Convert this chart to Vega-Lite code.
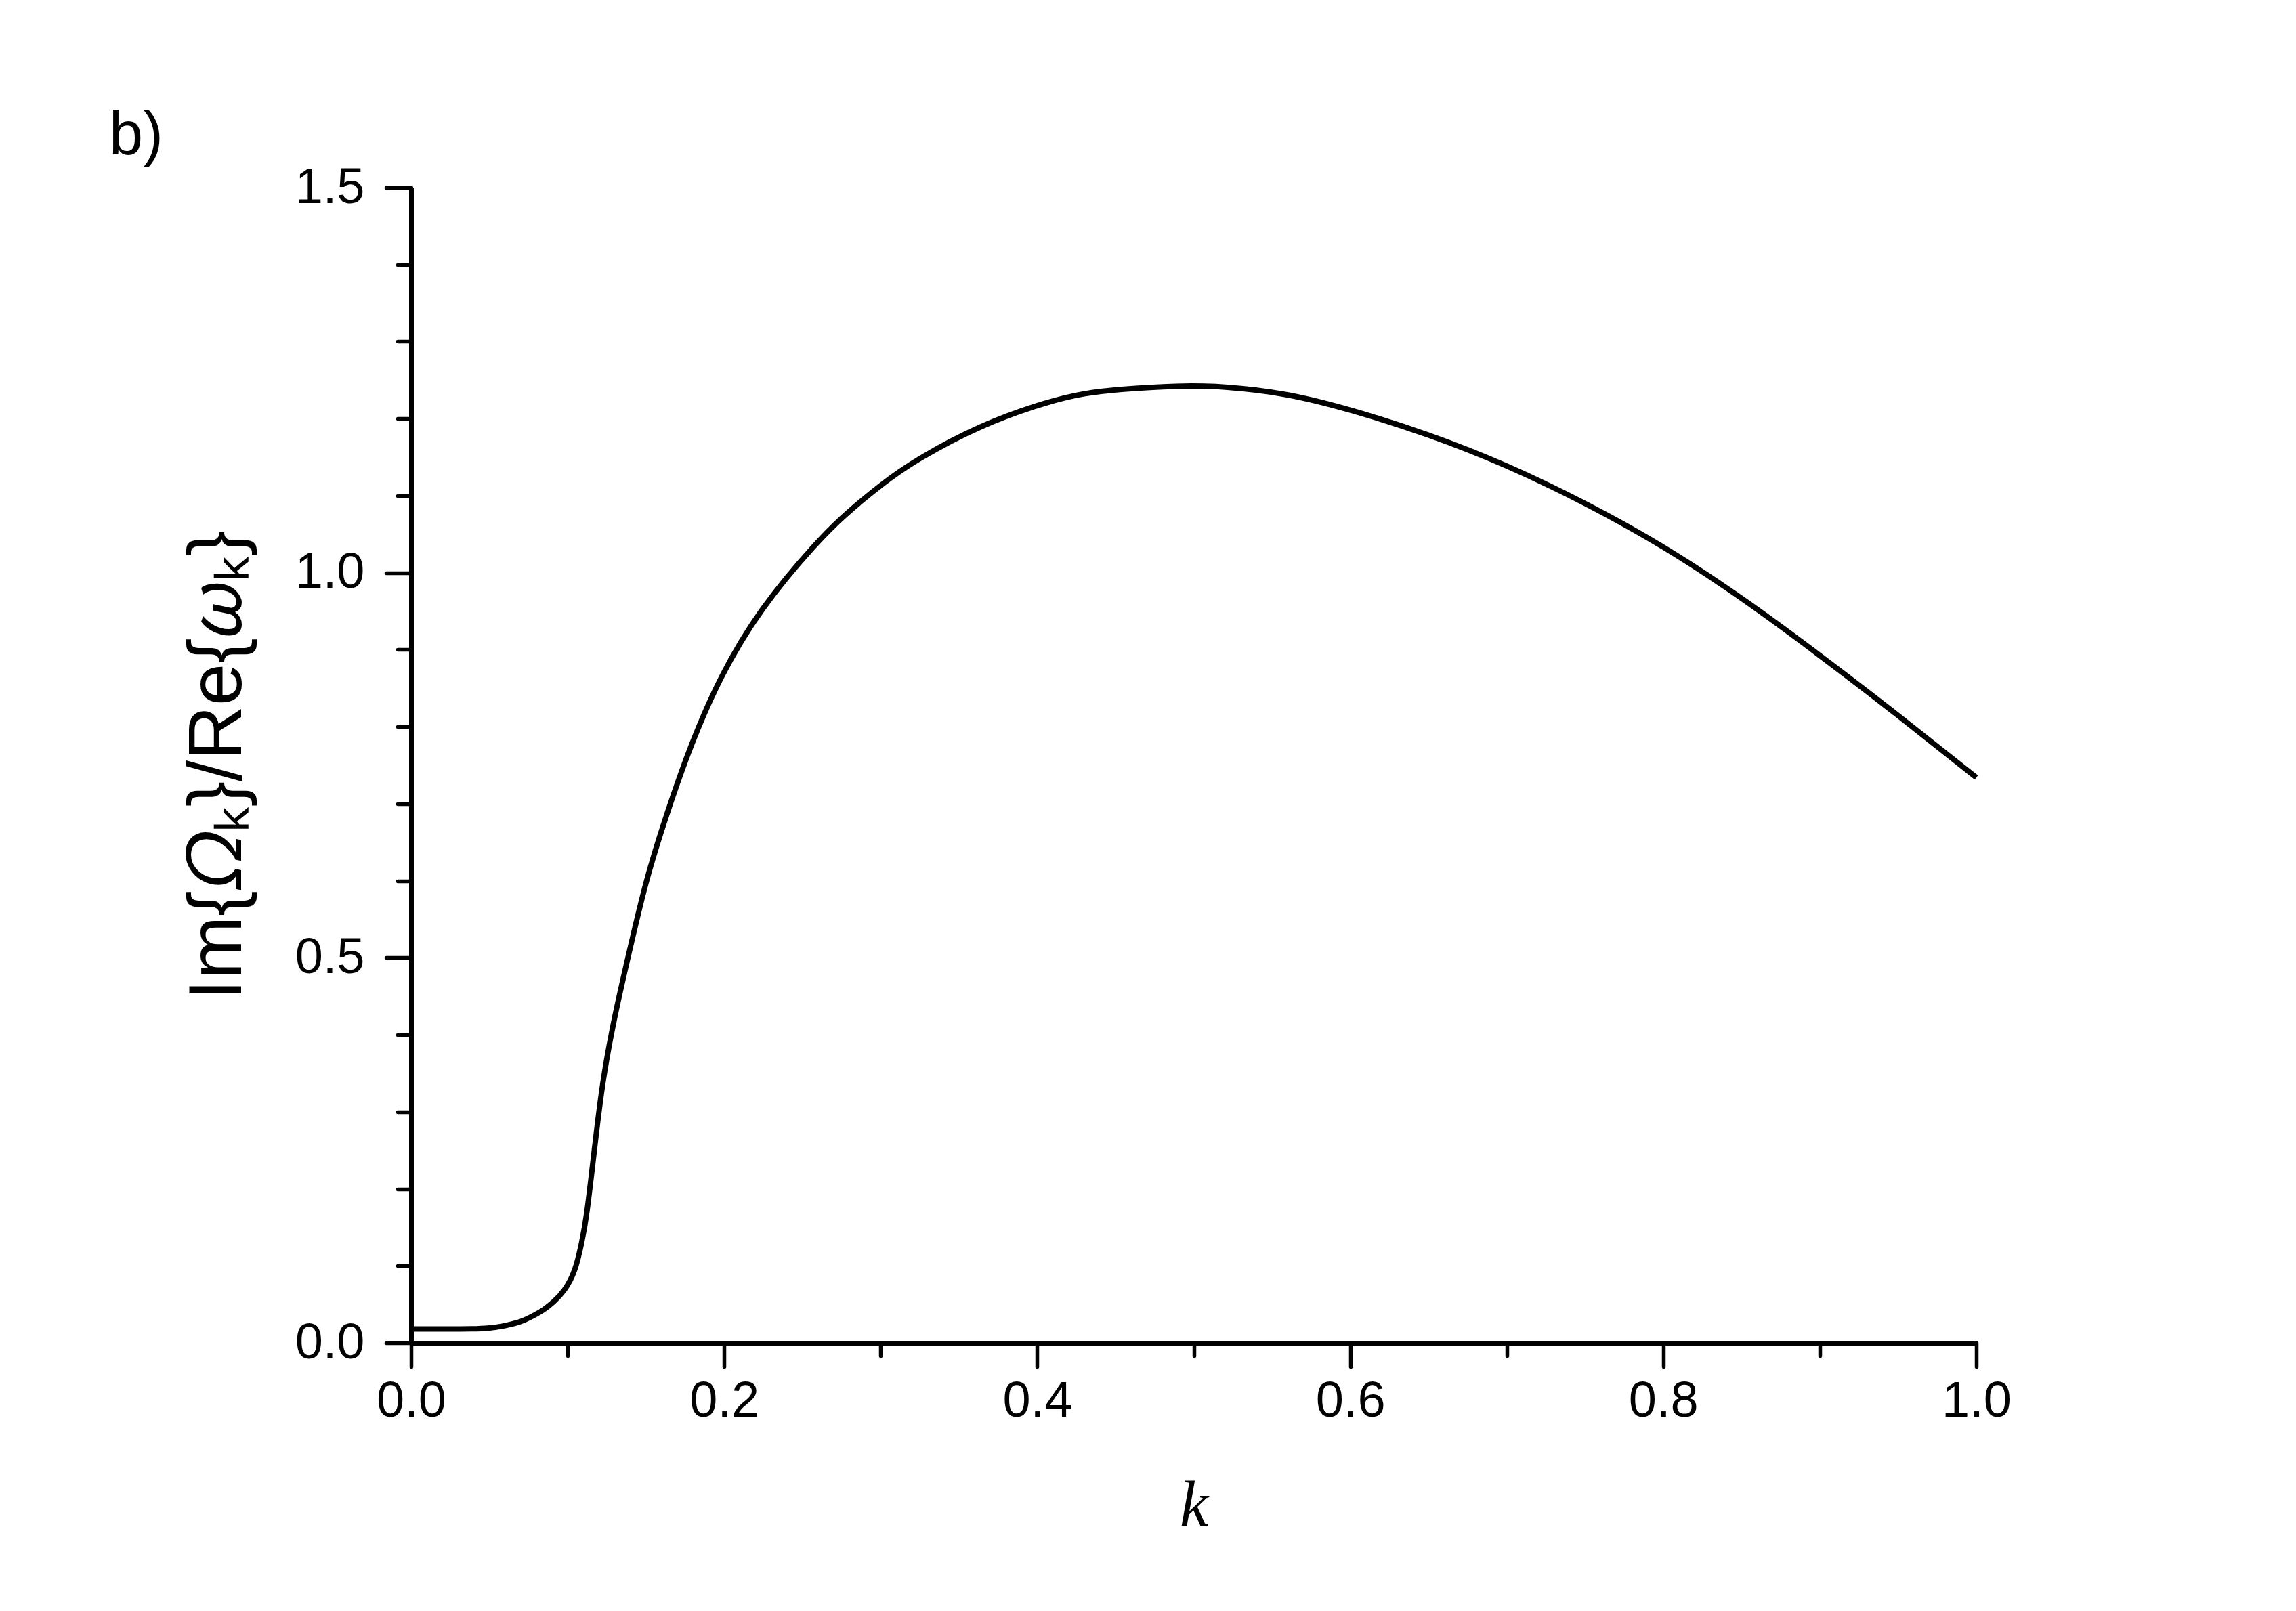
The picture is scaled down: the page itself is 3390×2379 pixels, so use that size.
{
  "$schema": "https://vega.github.io/schema/vega-lite/v6.json",
  "autosize": {"type": "none"},
  "width": 2311,
  "height": 1706,
  "padding": {"left": 607, "top": 277, "right": 472, "bottom": 396},
  "background": "white",
  "config": {"view": {"stroke": null}},
  "title": {
    "text": "b)",
    "anchor": "start",
    "frame": "group",
    "font": "Liberation Sans",
    "fontSize": 90,
    "fontWeight": "normal",
    "color": "black",
    "dx": -446,
    "dy": 91,
    "offset": 13,
    "baseline": "alphabetic"
  },
  "data": {
    "values": [
      {"k": 0.0, "v": 0.018},
      {"k": 0.02, "v": 0.018},
      {"k": 0.04, "v": 0.018},
      {"k": 0.05, "v": 0.019},
      {"k": 0.06, "v": 0.022},
      {"k": 0.07, "v": 0.027},
      {"k": 0.078, "v": 0.035},
      {"k": 0.085, "v": 0.043},
      {"k": 0.091, "v": 0.053},
      {"k": 0.098, "v": 0.067},
      {"k": 0.105, "v": 0.093},
      {"k": 0.109, "v": 0.13},
      {"k": 0.112, "v": 0.161},
      {"k": 0.117, "v": 0.249},
      {"k": 0.122, "v": 0.337},
      {"k": 0.13, "v": 0.425},
      {"k": 0.14, "v": 0.513},
      {"k": 0.15, "v": 0.601},
      {"k": 0.1636, "v": 0.689},
      {"k": 0.1787, "v": 0.777},
      {"k": 0.1973, "v": 0.865},
      {"k": 0.2228, "v": 0.953},
      {"k": 0.2596, "v": 1.041},
      {"k": 0.278, "v": 1.077},
      {"k": 0.3, "v": 1.114},
      {"k": 0.3215, "v": 1.1455},
      {"k": 0.3648, "v": 1.193},
      {"k": 0.408, "v": 1.223},
      {"k": 0.43, "v": 1.233},
      {"k": 0.451, "v": 1.238},
      {"k": 0.49, "v": 1.243},
      {"k": 0.52, "v": 1.242},
      {"k": 0.5595, "v": 1.233},
      {"k": 0.6, "v": 1.212},
      {"k": 0.65, "v": 1.18},
      {"k": 0.7, "v": 1.14},
      {"k": 0.75, "v": 1.091},
      {"k": 0.8, "v": 1.035},
      {"k": 0.85, "v": 0.968},
      {"k": 0.9, "v": 0.893},
      {"k": 0.95, "v": 0.815},
      {"k": 1.0, "v": 0.734}
    ]
  },
  "mark": {"type": "line", "color": "black", "strokeWidth": 8, "interpolate": "basis"},
  "encoding": {
    "x": {
      "field": "k",
      "type": "quantitative",
      "scale": {"domain": [0, 1], "nice": false, "zero": false},
      "axis": {
        "values": [0, 0.1, 0.2, 0.3, 0.4, 0.5, 0.6, 0.7, 0.8, 0.9, 1.0],
        "labelExpr": "round(datum.value*10)%2==0 ? format(datum.value,'.1f') : ''",
        "tickSize": {"condition": {"test": "round(datum.value*10)%2==0", "value": 35}, "value": 19},
        "tickWidth": 5.5,
        "tickColor": "black",
        "tickCap": "round",
        "domainWidth": 7,
        "domainColor": "black",
        "grid": false,
        "labelFont": "Liberation Sans",
        "labelFontSize": 74,
        "labelColor": "black",
        "labelPadding": 15,
        "labelFlush": false,
        "labelOverlap": false,
        "title": "k",
        "titleFont": "Liberation Serif",
        "titleFontStyle": "italic",
        "titleFontWeight": "normal",
        "titleFontSize": 95,
        "titleColor": "black",
        "titlePadding": 71
      }
    },
    "y": {
      "field": "v",
      "type": "quantitative",
      "scale": {"domain": [0, 1.5], "nice": false, "zero": false},
      "axis": {
        "values": [0, 0.1, 0.2, 0.3, 0.4, 0.5, 0.6, 0.7, 0.8, 0.9, 1.0, 1.1, 1.2, 1.3, 1.4, 1.5],
        "labelExpr": "round(datum.value*10)%5==0 ? format(datum.value,'.1f') : ''",
        "tickSize": {"condition": {"test": "round(datum.value*10)%5==0", "value": 37}, "value": 20},
        "tickWidth": 5.5,
        "tickColor": "black",
        "tickCap": "round",
        "domainWidth": 7,
        "domainColor": "black",
        "grid": false,
        "labelFont": "Liberation Sans",
        "labelFontSize": 74,
        "labelColor": "black",
        "labelPadding": 32,
        "labelFlush": false,
        "labelOverlap": false,
        "title": "Im{𝛺ₖ}/Re{𝜔ₖ}",
        "titleFont": "Liberation Sans",
        "titleFontWeight": "normal",
        "titleFontSize": 112,
        "titleColor": "black",
        "titlePadding": 56
      }
    }
  }
}
